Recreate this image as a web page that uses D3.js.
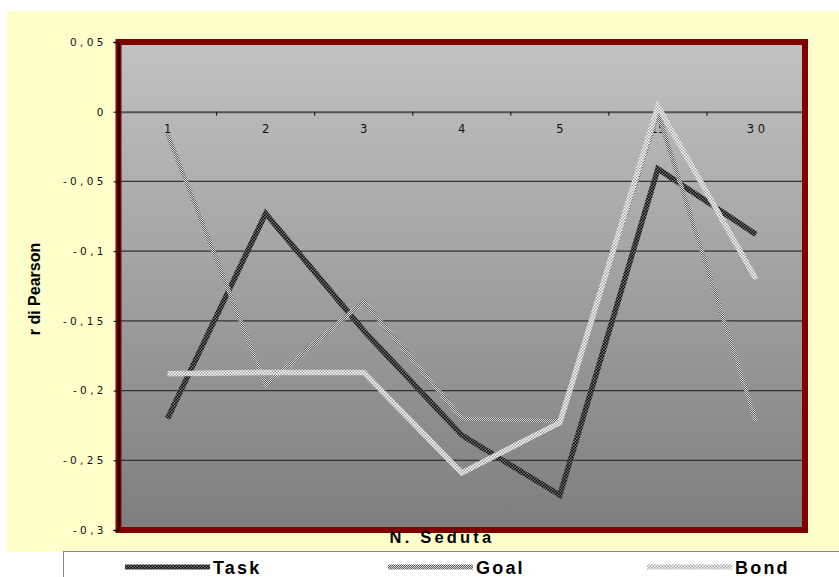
<!DOCTYPE html>
<html>
<head>
<meta charset="utf-8">
<script src="https://cdn.jsdelivr.net/npm/d3@7/dist/d3.min.js"></script>
<style>
  html, body { margin: 0; padding: 0; background: #ffffff; }
  svg { display: block; }
</style>
</head>
<body>
<svg id="chart" width="839" height="577"></svg>
<script>
// Sessions and correlation values per alliance dimension
const sessions = ["1", "2", "3", "4", "5", "15", "30"];
const sessionLabels = ["1", "2", "3", "4", "5", "15", "3 0"];
const task = [-0.220, -0.073, -0.157, -0.232, -0.275, -0.041, -0.088];
const goal = [-0.016, -0.196, -0.136, -0.220, -0.222, -0.001, -0.222];
const bond = [-0.188, -0.187, -0.187, -0.259, -0.223, 0.004, -0.120];
const yTicks = [0.05, 0, -0.05, -0.1, -0.15, -0.2, -0.25, -0.3];
const yTickLabels = ["0 , 0 5", "0", "- 0 , 0 5", "- 0 , 1", "- 0 , 1 5", "- 0 , 2", "- 0 , 2 5", "- 0 , 3"];
const seriesNames = ["Task", "Goal", "Bond"];

const svg = d3.select("#chart");
const plot = { left: 118.5, right: 805, top: 42, bottom: 530 };

// Chart background
svg.append("rect").attr("x", 7).attr("y", 11).attr("width", 832).attr("height", 541)
  .attr("fill", "#ffffcc");

const defs = svg.append("defs");
const grad = defs.append("linearGradient").attr("id", "plotGrad")
  .attr("x1", 0).attr("y1", 0).attr("x2", 0).attr("y2", 1);
grad.append("stop").attr("offset", "0%").attr("stop-color", "#c2c2c2");
grad.append("stop").attr("offset", "100%").attr("stop-color", "#7e7e7e");

// Dithered stroke patterns for the three series
function checker(id, a, b, size) {
  const p = defs.append("pattern").attr("id", id).attr("patternUnits", "userSpaceOnUse")
    .attr("width", size * 2).attr("height", size * 2);
  p.append("rect").attr("width", size * 2).attr("height", size * 2).attr("fill", a);
  p.append("rect").attr("width", size).attr("height", size).attr("fill", b);
  p.append("rect").attr("x", size).attr("y", size).attr("width", size).attr("height", size).attr("fill", b);
}
checker("patTask", "#000000", "#7a7a7a", 1.5);
checker("patGoal", "#5a5a5a", "#dcdcdc", 1);
checker("patBond", "#ffffff", "#a0a0a0", 1.5);

const x = d3.scaleBand().domain(sessions).range([plot.left, plot.right]);
const y = d3.scaleLinear().domain([-0.3, 0.05]).range([plot.bottom, plot.top]);

// Plot area
svg.append("rect").attr("x", plot.left).attr("y", plot.top)
  .attr("width", plot.right - plot.left).attr("height", plot.bottom - plot.top)
  .attr("fill", "url(#plotGrad)");

// Horizontal gridlines
svg.append("g").selectAll("line").data(yTicks.filter(v => v !== 0 && v !== 0.05 && v !== -0.3))
  .join("line")
  .attr("x1", plot.left).attr("x2", plot.right)
  .attr("y1", d => y(d)).attr("y2", d => y(d))
  .attr("stroke", "#333333").attr("stroke-width", 1.2);

// Category axis along zero
const xAxis = svg.append("g").attr("transform", `translate(0,${y(0)})`)
  .call(d3.axisBottom(x).tickSize(0).tickFormat((d, i) => sessionLabels[i]));
xAxis.select(".domain").attr("stroke", "#555555").attr("stroke-width", 2);
xAxis.selectAll("text").attr("dy", 0).attr("y", 21)
  .attr("font-family", "DejaVu Sans, Verdana, sans-serif").attr("font-size", 11.5)
  .attr("fill", "#111");
// Tick marks at category boundaries
svg.append("g").selectAll("line").data(sessions.slice(1).concat(["end"]))
  .join("line")
  .attr("x1", (d, i) => plot.left + x.bandwidth() * (i + 1))
  .attr("x2", (d, i) => plot.left + x.bandwidth() * (i + 1))
  .attr("y1", y(0)).attr("y2", y(0) + 4)
  .attr("stroke", "#222").attr("stroke-width", 1.2);

// Red frame round the plot
svg.append("rect").attr("x", plot.left).attr("y", plot.top)
  .attr("width", plot.right - plot.left).attr("height", plot.bottom - plot.top)
  .attr("fill", "none").attr("stroke", "#800000").attr("stroke-width", 6);

// Value axis
const yAxis = svg.append("g").attr("transform", `translate(${plot.left},0)`)
  .call(d3.axisLeft(y).tickValues(yTicks).tickSize(5).tickPadding(10)
    .tickFormat((d, i) => yTickLabels[i]));
yAxis.select(".domain").attr("stroke", "#000").attr("stroke-width", 1.5);
yAxis.selectAll(".tick line").attr("stroke", "#000");
yAxis.selectAll("text").attr("font-family", "DejaVu Sans, Verdana, sans-serif")
  .attr("font-size", 10.5).attr("fill", "#111");

// Series lines
const line = d3.line().x((d, i) => x(sessions[i]) + x.bandwidth() / 2).y(d => y(d));
const series = [
  { name: "Task", values: task, pat: "url(#patTask)" },
  { name: "Goal", values: goal, pat: "url(#patGoal)" },
  { name: "Bond", values: bond, pat: "url(#patBond)" }
];
const g = svg.append("g");
series.forEach(s => {
  g.append("path").datum(s.values).attr("d", line)
    .attr("fill", "none").attr("stroke", s.pat)
    .attr("stroke-width", s.name === "Goal" ? 4.5 : 5.5)
    .attr("stroke-linejoin", "miter");
});

// Axis titles
svg.append("text").attr("transform", "translate(40,289) rotate(-90)")
  .attr("text-anchor", "middle")
  .attr("font-family", "Liberation Sans Narrow, Arial Narrow, Liberation Sans, sans-serif")
  .attr("font-weight", "bold").attr("font-size", 16).attr("fill", "#000")
  .text("r di Pearson");
svg.append("text").attr("x", 442).attr("y", 543).attr("text-anchor", "middle")
  .attr("font-family", "Liberation Sans, Arial, sans-serif")
  .attr("font-weight", "bold").attr("font-size", 16.5).attr("letter-spacing", 3.2)
  .attr("fill", "#000").text("N. Seduta");

// Legend
svg.append("rect").attr("x", 63.5).attr("y", 551.5).attr("width", 790).attr("height", 40)
  .attr("fill", "#ffffff").attr("stroke", "#888").attr("stroke-width", 1);
const legendX = [125, 388, 647];
series.forEach((s, i) => {
  svg.append("line").attr("x1", legendX[i]).attr("x2", legendX[i] + 85)
    .attr("y1", 567).attr("y2", 567)
    .attr("stroke", s.pat).attr("stroke-width", 5);
  svg.append("text").attr("x", legendX[i] + 88).attr("y", 574)
    .attr("font-family", "Liberation Sans, Arial, sans-serif")
    .attr("font-weight", "bold").attr("font-size", 18).attr("letter-spacing", 2.2)
    .attr("fill", "#000").text(seriesNames[i]);
});
</script>
</body>
</html>
